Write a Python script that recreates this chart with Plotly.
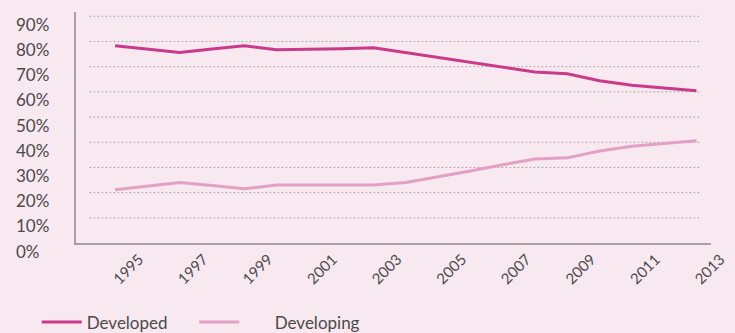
import plotly.graph_objects as go

# Share by group, annual values (%)
years = list(range(1995, 2014))
developed = [78.3, 77.0, 75.6, 77.0, 78.3, 76.7, 76.8, 77.1, 77.5, 75.6,
             73.6, 71.7, 69.8, 67.9, 67.2, 64.4, 62.6, 61.5, 60.4]
developing = [21.1, 22.5, 24.0, 22.8, 21.5, 23.0, 23.0, 23.0, 23.0, 24.0,
              26.2, 28.6, 31.1, 33.3, 33.8, 36.5, 38.4, 39.5, 40.6]

x_ticks = list(range(1995, 2014, 2))
y_ticks = [0, 10, 20, 30, 40, 50, 60, 70, 80, 90]
y_labels = [f"{v}%" for v in y_ticks]

BG = "#F8E8F0"
DEV_COLOR = "#C93B8A"
DEVING_COLOR = "#E3A0C2"
TEXT = "#4A4A4A"
GRID = "#9A9A9A"
FONT = "Lato"
NBSP = "\u00a0"

fig = go.Figure()
fig.add_trace(go.Scatter(x=years, y=developed, mode="lines",
                         name="Developed" + NBSP * 5,
                         line=dict(color=DEV_COLOR, width=3)))
fig.add_trace(go.Scatter(x=years, y=developing, mode="lines",
                         name=NBSP * 7 + "Developing",
                         line=dict(color=DEVING_COLOR, width=3)))

# dotted horizontal guides, inset from the axis frame
for v in y_ticks[1:]:
    fig.add_shape(type="line", xref="paper", yref="y", x0=0.0215, x1=0.9816,
                  y0=v, y1=v, line=dict(color=GRID, width=1, dash="1.5px,2.5px"),
                  layer="below")

# left-aligned percentage labels
for v, lab in zip(y_ticks, y_labels):
    fig.add_annotation(xref="paper", yref="y", x=0, y=v, xshift=-62, yshift=-8,
                       xanchor="left", yanchor="middle", text=lab, showarrow=False,
                       font=dict(family=FONT, size=17, color=TEXT))

fig.update_layout(
    width=735, height=333,
    margin=dict(l=76, r=7, t=11.7, b=90.1),
    paper_bgcolor=BG, plot_bgcolor=BG,
    font=dict(family=FONT, color=TEXT),
    showlegend=True,
    legend=dict(orientation="h", xref="container", yref="container",
                x=0.05, y=0.086, xanchor="left", yanchor="top",
                font=dict(family=FONT, size=17, color=TEXT),
                itemwidth=40, bgcolor="rgba(0,0,0,0)"),
    xaxis=dict(range=[1993.79, 2013.45], tickvals=x_ticks,
               ticktext=[str(y) for y in x_ticks], tickangle=-45,
               ticklabelshift=24, ticklabeloverflow="allow",
               showgrid=False, zeroline=False,
               showline=True, linecolor="#A8A0A4", linewidth=1.5,
               ticks="", tickfont=dict(family=FONT, size=15, color=TEXT)),
    yaxis=dict(range=[0, 91.7], showticklabels=False, showgrid=False,
               zeroline=False, showline=True, linecolor="#A8A0A4",
               linewidth=1.5, ticks=""),
)

fig.write_html("out.html")
